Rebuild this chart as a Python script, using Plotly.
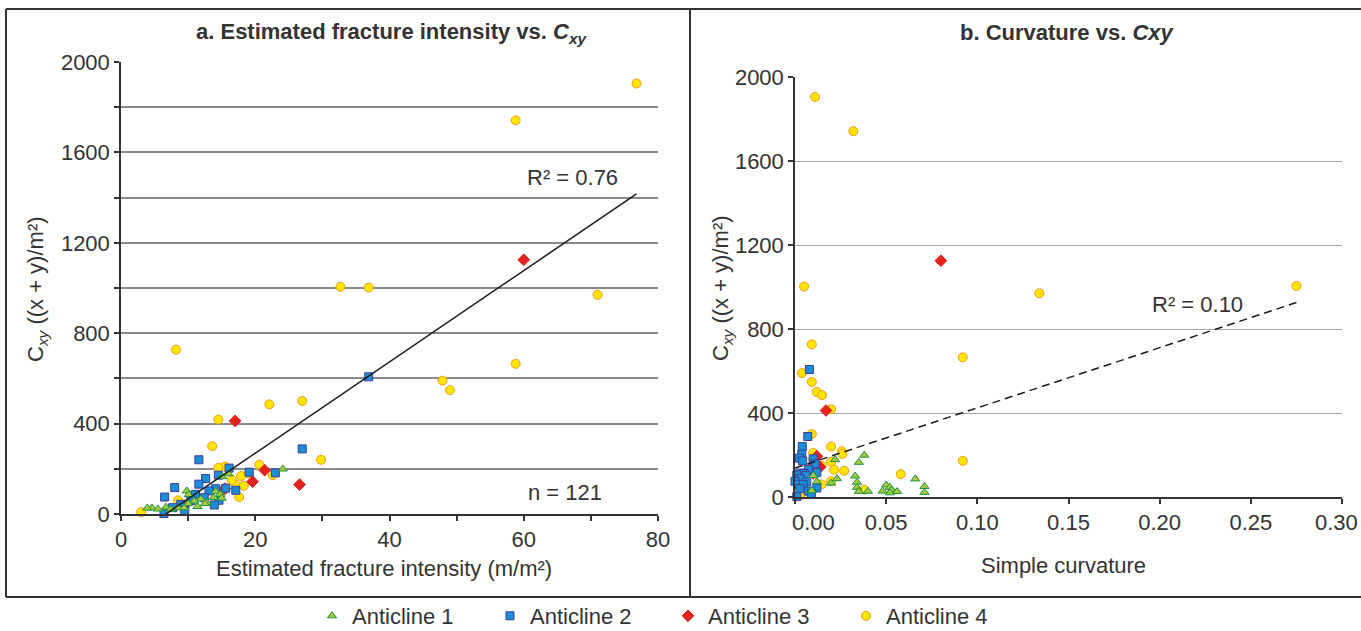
import plotly.graph_objects as go

# ---------------- data ----------------
# Anticline 1 (green triangles)
a1_intensity = [24.1, 16.0, 15.1, 9.8, 14.1, 14.8, 10.1, 13.8, 15.0, 11.9, 10.9, 12.8,
                10.0, 12.5, 11.4, 6.7, 8.5, 4.6, 9.4, 3.9, 5.5, 7.4]
a1_curvature = [0.038, 0.022, 0.035, 0.010, 0.033, 0.023, 0.066, 0.012, 0.034, 0.0198, 0.050, 0.071,
                0.034, 0.052, 0.053, 0.0092, 0.048, 0.035, 0.040, 0.056, 0.071, 0.052]
a1_cxy = [199, 178, 165, 102, 100, 87, 86, 73, 70, 66, 57, 50,
          46, 46, 33, 30, 28, 27, 27, 26, 22, 20]

# Anticline 2 (blue squares)
a2_intensity = [36.9, 27.0, 11.6, 16.1, 19.1, 23.0, 14.5, 12.6, 11.6, 8.0, 15.6, 14.1,
                17.1, 13.1, 11.1, 6.5, 12.4, 14.6, 10.4, 8.9, 13.9, 7.7, 9.5, 6.4]
a2_curvature = [0.0079, 0.007, 0.004, 0.0037, 0.0024, 0.010, 0.0042, 0.011, 0.0073, 0.012, 0.0027, 0.005,
                0.001, 0.006, 0.0027, 0.000, 0.0064, 0.0015, 0.0045, 0.012, 0.0027, 0.0073, 0.009, 0.001]
a2_cxy = [607, 288, 240, 203, 185, 182, 172, 157, 132, 117, 114, 112,
          105, 102, 87, 75, 72, 61, 60, 43, 40, 28, 16, 2]

# Anticline 3 (red diamonds)
a3_intensity = [60.0, 17.0, 21.4, 19.6, 26.6, 15.5]
a3_curvature = [0.080, 0.017, 0.012, 0.0137, 0.008, 0.010]
a3_cxy = [1125, 412, 194, 143, 130, 112]

# Anticline 4 (yellow circles)
a4_intensity = [76.8, 58.8, 32.7, 36.9, 71.0, 8.2, 58.8, 47.9, 49.0, 27.0, 22.1, 14.5,
                13.6, 29.8, 20.6, 15.5, 14.5, 22.6, 17.9, 17.1, 18.3, 15.3, 17.6, 8.5,
                3.0, 9.5, 16.5, 19.0]
a4_curvature = [0.011, 0.032, 0.275, 0.005, 0.134, 0.0092, 0.092, 0.0038, 0.0092, 0.0119, 0.0148, 0.0198,
                0.0092, 0.0198, 0.0256, 0.010, 0.026, 0.092, 0.0198, 0.0214, 0.027, 0.058, 0.0198, 0.0146,
                0.003, 0.038, 0.0146, 0.010]
a4_cxy = [1905, 1742, 1005, 1002, 970, 727, 665, 590, 548, 500, 485, 418,
          300, 240, 218, 210, 205, 172, 168, 130, 125, 109, 75, 60,
          8, 35, 150, 180]

# linear trendlines (slope, intercept) and their x spans
trend_a = (20.2, -135.0)
trend_a_span = [3.0, 76.8]
trend_b = (2865.0, 138.0)
trend_b_span = [0.0, 0.275]
r2_a = "R² = 0.76"
r2_b = "R² = 0.10"
n_label = "n = 121"

series = [
    ("Anticline 4", a4_intensity, a4_curvature, a4_cxy,
     dict(symbol="circle", size=9, color="#FFE500", line=dict(color="#F29A1E", width=1)), 4),
    ("Anticline 3", a3_intensity, a3_curvature, a3_cxy,
     dict(symbol="diamond", size=9, color="#E3211D", line=dict(color="#E3211D", width=1)), 3),
    ("Anticline 2", a2_intensity, a2_curvature, a2_cxy,
     dict(symbol="square", size=8, color="#1C8ED6", line=dict(color="#3B3F99", width=1)), 2),
    ("Anticline 1", a1_intensity, a1_curvature, a1_cxy,
     dict(symbol="triangle-up", size=8, color="#A5C93A", line=dict(color="#1E9344", width=1)), 1),
]

FONT = "Liberation Sans, Arial, sans-serif"
TXT = "#333333"
FS = 22

fig = go.Figure()
for name, inten, curv, cxy, mk, rank in series:
    fig.add_trace(go.Scatter(x=inten, y=cxy, mode="markers", name=name, marker=mk,
                             xaxis="x", yaxis="y", cliponaxis=False, legendrank=rank,
                             showlegend=True))
    fig.add_trace(go.Scatter(x=curv, y=cxy, mode="markers", name=name, marker=mk,
                             xaxis="x2", yaxis="y2", cliponaxis=False, showlegend=False))

# trendlines
ta_y = [trend_a[0] * v + trend_a[1] for v in trend_a_span]
fig.add_trace(go.Scatter(x=trend_a_span, y=ta_y, mode="lines", xaxis="x", yaxis="y",
                         line=dict(color="#1a1a1a", width=1.5), showlegend=False, hoverinfo="skip"))
tb_y = [trend_b[0] * v + trend_b[1] for v in trend_b_span]
fig.add_trace(go.Scatter(x=trend_b_span, y=tb_y, mode="lines", xaxis="x2", yaxis="y2",
                         line=dict(color="#1a1a1a", width=1.5, dash="8px,5px"),
                         showlegend=False, hoverinfo="skip"))

W, H = 1361, 631
def px_x(p):
    return p / W
def px_y(p):
    return (H - p) / H

xa_ticks = list(range(0, 81, 10))
xa_text = [str(v) if v % 20 == 0 else "" for v in xa_ticks]
ya_ticks = list(range(0, 2001, 200))
ya_text = [str(v) if v % 400 == 0 else "" for v in ya_ticks]
xb_ticks = [0.0, 0.05, 0.10, 0.15, 0.20, 0.25, 0.30]
# first and last labels of panel b are placed as annotations (nudged inward as in the original)
xb_text = ["" if v in (xb_ticks[0], xb_ticks[-1]) else f"{v:.2f}" for v in xb_ticks]
yb_ticks = list(range(0, 2001, 400))

axis_common = dict(showline=True, linecolor="#333333", linewidth=1.5, ticks="outside",
                   ticklen=5, tickcolor="#333333", tickwidth=1.5, zeroline=False,
                   automargin=False, ticklabeloverflow="allow",
                   tickfont=dict(family=FONT, size=FS, color=TXT), fixedrange=True)

fig.update_layout(
    template="none",
    width=W, height=H,
    margin=dict(l=0, r=0, t=0, b=0, pad=0, autoexpand=False),
    paper_bgcolor="white", plot_bgcolor="white",
    font=dict(family=FONT, color=TXT),
    showlegend=True,
    legend=dict(orientation="h", x=px_x(312), xanchor="left", y=px_y(616), yanchor="middle",
                font=dict(family=FONT, size=FS, color=TXT), entrywidth=133, itemwidth=30,
                bgcolor="rgba(0,0,0,0)", borderwidth=0),
    xaxis=dict(domain=[px_x(121), px_x(658)], range=[0, 80], tickvals=xa_ticks, ticktext=xa_text,
               showgrid=False, anchor="y", **axis_common),
    yaxis=dict(domain=[px_y(514), px_y(62)], range=[0, 2000], tickvals=ya_ticks, ticktext=ya_text,
               showgrid=True, gridcolor="#8a8a8a", gridwidth=1.5, anchor="x", **axis_common),
    xaxis2=dict(domain=[px_x(795), px_x(1342)], range=[0, 0.30], tickvals=xb_ticks, ticktext=xb_text,
                showgrid=False, anchor="y2", **axis_common),
    yaxis2=dict(domain=[px_y(497), px_y(77)], range=[0, 2000], tickvals=yb_ticks,
                showgrid=True, gridcolor="#a6a6a6", gridwidth=1.2, anchor="x2", **axis_common),
)

border = dict(color="#333333", width=2)
fig.add_shape(type="line", xref="paper", yref="paper", x0=px_x(6), x1=1.0, y0=px_y(9), y1=px_y(9), line=border)
fig.add_shape(type="line", xref="paper", yref="paper", x0=px_x(6), x1=1.0, y0=px_y(597), y1=px_y(597), line=border)
fig.add_shape(type="line", xref="paper", yref="paper", x0=px_x(6), x1=px_x(6), y0=px_y(9), y1=px_y(597), line=border)
fig.add_shape(type="line", xref="paper", yref="paper", x0=px_x(690), x1=px_x(690), y0=px_y(9), y1=px_y(597), line=border)

ann = []
ann.append(dict(text="<b>a. Estimated fracture intensity vs. <i>C<sub>xy</sub></i></b>", xref="paper", yref="paper",
                x=px_x(391), y=px_y(33), showarrow=False, font=dict(family=FONT, size=FS, color=TXT),
                xanchor="center", yanchor="middle"))
ann.append(dict(text="<b>b. Curvature vs. <i>Cxy</i></b>", xref="paper", yref="paper",
                x=px_x(1067), y=px_y(33), showarrow=False, font=dict(family=FONT, size=FS, color=TXT),
                xanchor="center", yanchor="middle"))
ytitle = "C<sub><i>xy</i></sub> ((x + y)/m²)"
ann.append(dict(text=ytitle, xref="paper", yref="paper", x=px_x(37), y=px_y(289), textangle=-90,
                showarrow=False, font=dict(family=FONT, size=FS, color=TXT), xanchor="center", yanchor="middle"))
ann.append(dict(text=ytitle, xref="paper", yref="paper", x=px_x(722), y=px_y(288), textangle=-90,
                showarrow=False, font=dict(family=FONT, size=FS, color=TXT), xanchor="center", yanchor="middle"))
ann.append(dict(text="Estimated fracture intensity (m/m²)", xref="paper", yref="paper",
                x=px_x(384), y=px_y(568), showarrow=False, font=dict(family=FONT, size=FS, color=TXT),
                xanchor="center", yanchor="middle"))
ann.append(dict(text="Simple curvature", xref="paper", yref="paper",
                x=px_x(1063), y=px_y(565), showarrow=False, font=dict(family=FONT, size=FS, color=TXT),
                xanchor="center", yanchor="middle"))
ann.append(dict(text=r2_a, xref="x", yref="y", x=67.3, y=1488, showarrow=False,
                font=dict(family=FONT, size=FS, color=TXT), xanchor="center", yanchor="middle"))
ann.append(dict(text=n_label, xref="x", yref="y", x=66.1, y=97, showarrow=False,
                font=dict(family=FONT, size=FS, color=TXT), xanchor="center", yanchor="middle"))
ann.append(dict(text=r2_b, xref="x2", yref="y2", x=0.2206, y=919, showarrow=False,
                font=dict(family=FONT, size=FS, color=TXT), xanchor="center", yanchor="middle"))
ann.append(dict(text=f"{xb_ticks[0]:.2f}", xref="x2", yref="paper", x=xb_ticks[0], xshift=18,
                y=px_y(522), showarrow=False, font=dict(family=FONT, size=FS, color=TXT),
                xanchor="center", yanchor="middle"))
ann.append(dict(text=f"{xb_ticks[-1]:.2f}", xref="x2", yref="paper", x=xb_ticks[-1], xshift=18,
                y=px_y(522), showarrow=False, font=dict(family=FONT, size=FS, color=TXT),
                xanchor="right", yanchor="middle"))
fig.update_layout(annotations=ann)

fig.write_html("out.html")
